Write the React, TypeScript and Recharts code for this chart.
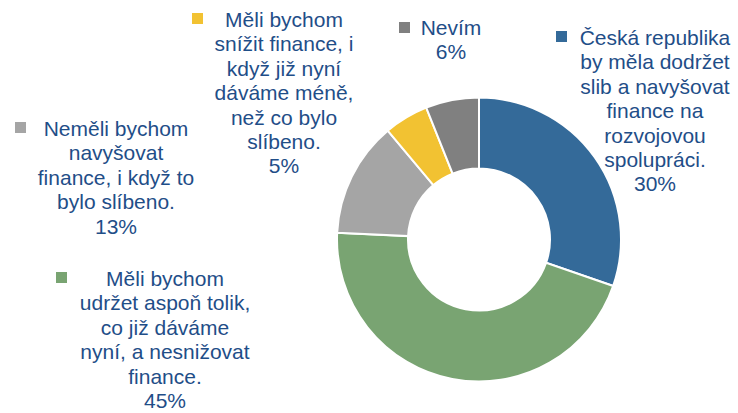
import { PieChart, Pie, Cell } from 'recharts'

// slices clockwise from 12 o'clock
const CATEGORIES: string[][] = [
  ['Česká republika', 'by měla dodržet', 'slib a navyšovat', 'finance na', 'rozvojovou', 'spolupráci.'],
  ['Měli bychom', 'udržet aspoň tolik,', 'co již dáváme', 'nyní, a nesnižovat', 'finance.'],
  ['Neměli bychom', 'navyšovat', 'finance, i když to', 'bylo slíbeno.'],
  ['Měli bychom', 'snížit finance, i', 'když již nyní', 'dáváme méně,', 'než co bylo', 'slíbeno.'],
  ['Nevím'],
]
const VALUES = [30, 45, 13, 5, 6]

const COLORS = ['#346A99', '#79A472', '#A5A5A5', '#F2C232', '#808080']
const TEXT_COLOR = '#1F4E88'
const FONT = '"Liberation Sans", Arial, sans-serif'
const LINE_H = 24.4

// hand-placed label boxes: text centre x, first baseline y, legend square
const LABEL_POS = [
  { x: 655, y: 45, mx: 556, my: 31 },
  { x: 165, y: 286, mx: 56, my: 272 },
  { x: 116, y: 136, mx: 15, my: 122 },
  { x: 284, y: 27, mx: 192, my: 13 },
  { x: 451, y: 35, mx: 399, my: 22 },
]

const data = CATEGORIES.map((lines, i) => ({
  name: lines.join(' '),
  value: VALUES[i],
}))

function renderLabel(props: any) {
  const i = props.index
  const pos = LABEL_POS[i]
  const lines = [...CATEGORIES[i], `${VALUES[i]}%`]
  return (
    <g key={`lbl-${i}`}>
      <rect x={pos.mx} y={pos.my} width={11} height={11} fill={COLORS[i]} />
      <text
        x={pos.x}
        y={pos.y}
        textAnchor="middle"
        fontFamily={FONT}
        fontSize={21}
        fill={TEXT_COLOR}
      >
        {lines.map((l, k) => (
          <tspan key={k} x={pos.x} dy={k === 0 ? 0 : LINE_H}>
            {l}
          </tspan>
        ))}
      </text>
    </g>
  )
}

export default function App() {
  return (
    <div style={{ position: 'absolute', left: 0, top: 0, width: 738, height: 413, background: '#fff' }}>
      <PieChart width={738} height={413} margin={{ top: 0, right: 0, bottom: 0, left: 0 }}>
        <Pie
          data={data}
          dataKey="value"
          cx={479}
          cy={239.5}
          innerRadius={71}
          outerRadius={142}
          startAngle={90}
          endAngle={-270}
          stroke="#fff"
          strokeWidth={2}
          label={renderLabel}
          labelLine={false}
          isAnimationActive={false}
        >
          {data.map((_, i) => (
            <Cell key={i} fill={COLORS[i]} />
          ))}
        </Pie>
      </PieChart>
    </div>
  )
}
